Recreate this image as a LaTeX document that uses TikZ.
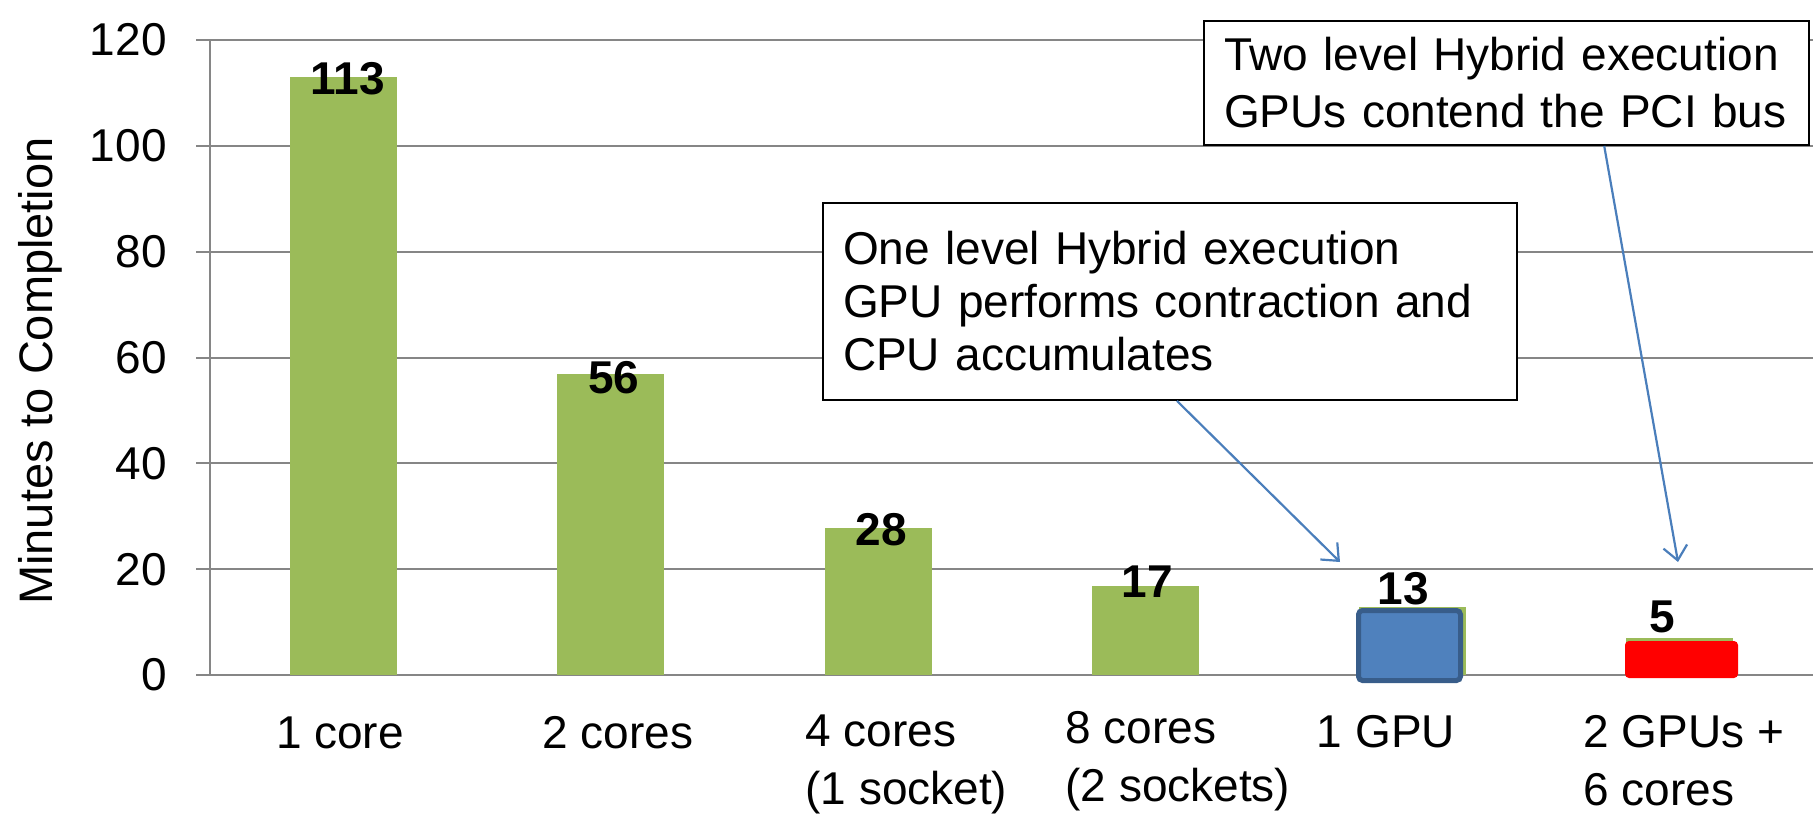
\documentclass[tikz,border=0pt]{standalone}
\usepackage{fontspec}
\setmainfont{Liberation Sans}
\usetikzlibrary{arrows.meta,calc}
\definecolor{bargreen}{HTML}{9BBB59}
\definecolor{gridgray}{HTML}{868686}
\definecolor{gpublue}{HTML}{4F81BD}
\definecolor{gpuedge}{HTML}{385D8A}
\definecolor{calloutblue}{HTML}{4A7EBB}
\begin{document}
\begin{tikzpicture}[x=0.5pt,y=-0.5pt,
  base/.style={font=\fontsize{23}{26.5}\selectfont, inner sep=0pt},
  ticklabel/.style={base, anchor=east},
  catlabel/.style={base, font=\fontsize{23}{29}\selectfont},
  vallabel/.style={base, font=\fontsize{23}{26.5}\selectfont\bfseries},
  gridline/.style={draw=gridgray, line width=1pt},
  calloutbox/.style={draw=black, line width=0.9pt, fill=white,
    font=\fontsize{23}{26.5}\selectfont, align=left, inner xsep=10pt},
  calloutarrow/.style={draw=calloutblue, line width=1.1pt,
    -{Straight Barb[length=7pt,width=12pt,line width=1.1pt]}}
]
\useasboundingbox (0,0) rectangle (1816,819);

% value axis: gridlines, ticks and tick labels (5.2917 px per minute)
\foreach \v in {0,20,...,120}{
  \draw[gridline] (196,{675-\v*5.2917}) -- (1813,{675-\v*5.2917});
  \node[ticklabel] (tick\v) at (167,{675-\v*5.2917}) {\v};
}
\draw[gridline] (210,40) -- (210,675);

% axis title
\node[base, rotate=90, font=\fontsize{23.5}{28}\selectfont] (ytitle) at (40,371) {Minutes to Completion};

% bars
\foreach \i/\v in {1/113.1,2/56.9,3/27.8,4/16.8,5/12.9,6/6.9}{
  \fill[bargreen] ({210+267.2*(\i-0.5)-53.5},675) rectangle ++(107,{-\v*5.2917});
}
% highlighted bars
\draw[draw=gpuedge, fill=gpublue, line width=2.5pt, rounded corners=2pt]
  (1358.5,610.5) rectangle (1460.5,680.5);
\fill[red, rounded corners=2pt] (1625,641) rectangle (1738,678);

% value labels
\node[vallabel] (v1) at (348,79) {113};
\node[vallabel] (v2) at (614,378) {56};
\node[vallabel] (v3) at (881,530) {28};
\node[vallabel] (v4) at (1147,582) {17};
\node[vallabel] (v5) at (1403,589) {13};
\node[vallabel] (v6) at (1662,617) {5};

% category labels
\node[catlabel] (c1) at (340,733) {1 core};
\node[catlabel] (c2) at (618,733) {2 cores};
\node[catlabel, anchor=west, align=left] (c3) at (805,764) {4 cores\\(1 socket)};
\node[catlabel, anchor=west, align=left] (c4) at (1065,761) {8 cores\\(2 sockets)};
\node[catlabel] (c5) at (1386,732) {1 GPU};
\node[catlabel, anchor=west, align=left] (c6) at (1583,761) {2 GPUs +\\6 cores};

% callouts
\node[calloutbox, minimum width=347pt, minimum height=98.5pt, text width=327pt]
  (one) at (1170,301.5)
  {One level Hybrid execution\\GPU performs contraction and\\CPU accumulates};
\node[calloutbox, minimum width=302.5pt, minimum height=62pt, text width=282.5pt,
  font=\fontsize{23}{28.5}\selectfont]
  (two) at (1506.5,83)
  {Two level Hybrid execution\\GPUs contend the PCI bus};

\coordinate (tipone) at (1340,562);
\coordinate (tiptwo) at (1678,562);
\draw[calloutarrow] ($(one.south west)!0.51!(one.south east)$) -- (tipone);
\draw[calloutarrow] ($(two.south west)!0.661!(two.south east)$) -- (tiptwo);
\end{tikzpicture}
\end{document}
